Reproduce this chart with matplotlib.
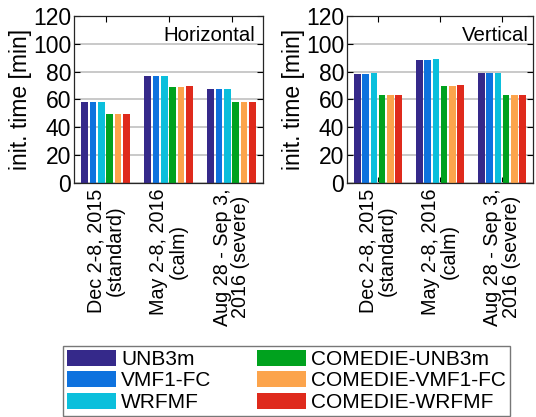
import matplotlib
matplotlib.use("Agg")
import matplotlib.pyplot as plt
import numpy as np
from matplotlib.patches import Patch

plt.rcParams['font.family'] = ['Liberation Sans', 'DejaVu Sans']

categories = ["Dec 2-8, 2015\n(standard)", "May 2-8, 2016\n(calm)", "Aug 28 - Sep 3,\n2016 (severe)"]
series = ["UNB3m", "VMF1-FC", "WRFMF", "COMEDIE-UNB3m", "COMEDIE-VMF1-FC", "COMEDIE-WRFMF"]
colors = ["#35298a", "#0e72de", "#0bbfdc", "#00a21e", "#fca44c", "#df2a1c"]

horizontal = {
    "UNB3m":           [58.0, 76.9, 67.4],
    "VMF1-FC":         [58.0, 76.9, 67.4],
    "WRFMF":           [58.0, 76.9, 67.4],
    "COMEDIE-UNB3m":   [49.4, 68.9, 58.0],
    "COMEDIE-VMF1-FC": [49.4, 68.9, 58.0],
    "COMEDIE-WRFMF":   [49.4, 69.6, 58.0],
}
vertical = {
    "UNB3m":           [78.3, 88.5, 79.3],
    "VMF1-FC":         [78.3, 88.5, 79.3],
    "WRFMF":           [79.0, 89.2, 79.3],
    "COMEDIE-UNB3m":   [63.4, 69.6, 63.4],
    "COMEDIE-VMF1-FC": [63.4, 69.6, 63.4],
    "COMEDIE-WRFMF":   [63.4, 70.6, 63.4],
}
panel_titles = ["Horizontal", "Vertical"]
title_x = [0.957, 0.975]
yticks = [0, 20, 40, 60, 80, 100, 120]

W, H = 536, 417
fig = plt.figure(figsize=(W / 100, H / 100), dpi=100)

axes_px = [(74, 16, 263, 183), (347, 16, 533, 183)]
for (x0, y0, x1, y1), data, title, tx in zip(axes_px, [horizontal, vertical], panel_titles, title_x):
    ax = fig.add_axes([x0 / W, 1 - y1 / H, (x1 - x0) / W, (y1 - y0) / H])
    x = np.arange(1, len(categories) + 1)
    n = len(series)
    groupw = 0.8
    slot = groupw / n
    for i, s in enumerate(series):
        off = -groupw / 2 + slot * (i + 0.5)
        ax.bar(x + off, data[s], width=slot * 0.8, color=colors[i], zorder=2)
    ax.set_xlim(0.5, 3.5)
    ax.set_ylim(0, 120)
    ax.set_yticks(yticks)
    ax.set_xticks(x)
    ax.set_xticklabels(categories, rotation=90, ha='center', va='top',
                       multialignment='center', fontsize=14.2, linespacing=1.0)
    ax.tick_params(axis='y', labelsize=16.5, direction='in', length=4, right=True, pad=2)
    ax.tick_params(axis='x', direction='in', length=4, top=True, pad=4)
    ax.yaxis.grid(True, color='#c0c0c0', linewidth=1.2, zorder=0)
    ax.set_axisbelow(True)
    for sp in ax.spines.values():
        sp.set_color('#262626')
        sp.set_linewidth(0.9)
    ax.set_ylabel("init. time [min]", fontsize=16.5, labelpad=1)
    ax.text(tx, 0.94, title, transform=ax.transAxes, ha='right', va='top', fontsize=14.7)

handles = [Patch(facecolor=c, edgecolor='none') for c in colors]
leg = fig.legend(handles, series, loc='lower left',
                 bbox_to_anchor=(63 / W, 1 / H, (510 - 63) / W, 77 / H),
                 mode='expand', ncol=2, fontsize=15, handlelength=2.35,
                 handleheight=0.82, labelspacing=0.1, handletextpad=0.25,
                 borderaxespad=0, fancybox=False, frameon=True, columnspacing=1.0,
                 borderpad=0.2)
leg.get_frame().set_edgecolor('#555555')
leg.get_frame().set_linewidth(1.0)

fig.savefig("out.png", dpi=100)
